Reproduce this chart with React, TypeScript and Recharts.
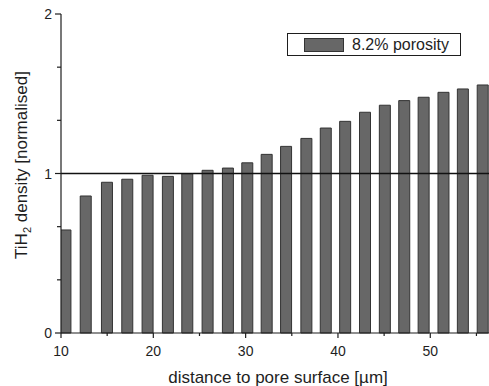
import React from "react";
import { ComposedChart, Bar, XAxis, YAxis, ReferenceLine } from "recharts";

const distances = [10.5, 12.7, 15.0, 17.2, 19.4, 21.6, 23.7, 25.9, 28.1, 30.2, 32.3, 34.4, 36.6, 38.7, 40.8, 42.95, 45.1, 47.2, 49.3, 51.45, 53.55, 55.7];
const densities = [0.646, 0.859, 0.945, 0.964, 0.989, 0.982, 0.999, 1.02, 1.034, 1.067, 1.12, 1.17, 1.22, 1.285, 1.327, 1.384, 1.428, 1.457, 1.478, 1.509, 1.53, 1.555];
const xTicks = [10, 15, 20, 25, 30, 35, 40, 45, 50, 55];
const yTicks = [0, 1 / 3, 2 / 3, 1, 4 / 3, 5 / 3, 2];
const seriesName = "8.2% porosity";
const xTitle = "distance to pore surface [\u00b5m]";

const data = distances.map((d, i) => ({ x: d, y: densities[i] }));

const FONT = "'Liberation Sans', Arial, sans-serif";
const INK = "#1e1e1e";

const BottomTick = (props: any) => {
  const { x, y, payload } = props;
  const major = payload.value % 10 === 0;
  return (
    <g>
      <line x1={x} x2={x} y1={y} y2={y + (major ? 5 : 3)} stroke={INK} strokeWidth={1.2} />
      {major && (
        <text x={x} y={y + 23} textAnchor="middle" fontSize={14} fontFamily={FONT} fill={INK}>
          {payload.value}
        </text>
      )}
    </g>
  );
};

const TopTick = (props: any) => {
  const { x, y, payload } = props;
  const major = payload.value % 10 === 0;
  return <line x1={x} x2={x} y1={y} y2={y + (major ? 6 : 3)} stroke={INK} strokeWidth={1.2} />;
};

const LeftTick = (props: any) => {
  const { x, y, payload } = props;
  const v = payload.value;
  const major = Math.abs(v - Math.round(v)) < 1e-6;
  return (
    <g>
      <line x1={x - (major ? 6 : 4)} x2={x} y1={y} y2={y} stroke={INK} strokeWidth={1.2} />
      {major && (
        <text x={x - 9} y={y + 5} textAnchor="end" fontSize={14} fontFamily={FONT} fill={INK}>
          {Math.round(v)}
        </text>
      )}
    </g>
  );
};

const XTitle = () => (
  <text x={278} y={383} textAnchor="middle" fontSize={17} fontFamily={FONT} fill={INK}>
    {xTitle}
  </text>
);

const YTitle = () => (
  <text
    x={27}
    y={165}
    transform="rotate(-90, 27, 165)"
    textAnchor="middle"
    fontSize={17}
    fontFamily={FONT}
    fill={INK}
  >
    TiH
    <tspan fontSize={11} dy={4}>2</tspan>
    <tspan dy={-4}> density [normalised]</tspan>
  </text>
);

export default function App() {
  return (
    <div style={{ position: "absolute", left: 0, top: 0, width: 489, height: 386, background: "#fff" }}>
      <ComposedChart width={489} height={386} data={data} margin={{ top: 14, right: 0, bottom: 0, left: 0 }}>
        <XAxis
          dataKey="x"
          type="number"
          domain={[10, 56.36]}
          allowDataOverflow
          ticks={xTicks}
          interval={0}
          height={53}
          tickSize={0}
          tickMargin={0}
          tickLine={false}
          tick={<BottomTick />}
          axisLine={{ stroke: INK, strokeWidth: 1.2 }}
          label={{ content: () => <XTitle /> }}
        />
        <XAxis
          xAxisId="top"
          dataKey="x"
          type="number"
          orientation="top"
          domain={[10, 56.36]}
          allowDataOverflow
          ticks={xTicks}
          interval={0}
          height={0}
          tickSize={0}
          tickMargin={0}
          tickLine={false}
          tick={<TopTick />}
          axisLine={{ stroke: INK, strokeWidth: 1.2 }}
        />
        <YAxis
          type="number"
          domain={[0, 2]}
          ticks={yTicks}
          interval={0}
          width={61}
          tickSize={0}
          tickMargin={0}
          tickLine={false}
          tick={<LeftTick />}
          axisLine={{ stroke: INK, strokeWidth: 1.2 }}
          label={{ content: () => <YTitle /> }}
        />
        <Bar dataKey="y" name={seriesName} barSize={11} fill="#676767" stroke="#333" strokeWidth={1} isAnimationActive={false} />
        <ReferenceLine y={1} stroke="#111" strokeWidth={1.5} />
      </ComposedChart>
      <div
        style={{
          position: "absolute",
          left: 287,
          top: 33,
          width: 174,
          height: 23,
          border: `1px solid ${INK}`,
          boxSizing: "border-box",
          background: "#fff",
          fontFamily: FONT,
          fontSize: 16,
          color: INK,
        }}
      >
        <div
          style={{
            position: "absolute",
            left: 16,
            top: 4,
            width: 40,
            height: 14,
            background: "#676767",
            border: "1px solid #333",
            boxSizing: "border-box",
          }}
        />
        <div style={{ position: "absolute", left: 64, top: 1, lineHeight: "19px", whiteSpace: "nowrap" }}>{seriesName}</div>
      </div>
    </div>
  );
}
